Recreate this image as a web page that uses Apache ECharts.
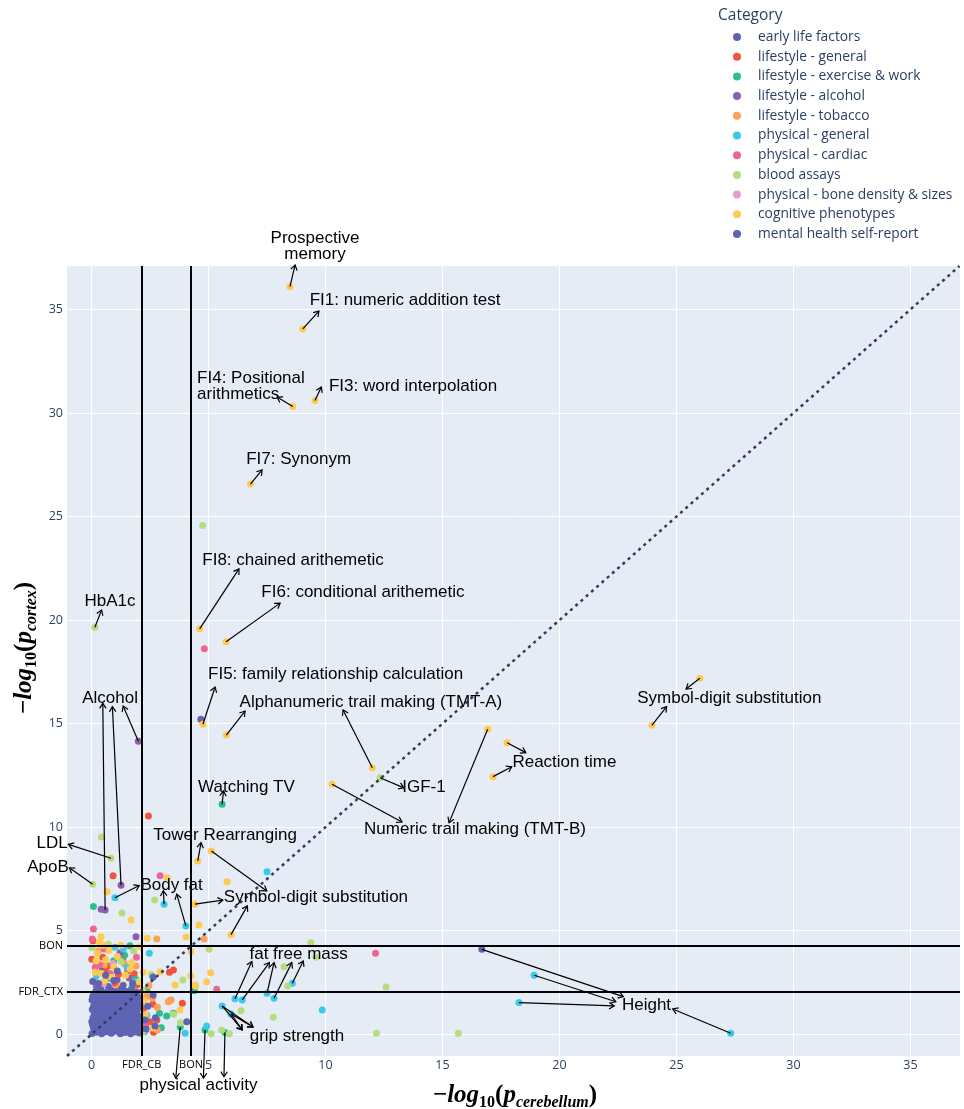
<!DOCTYPE html>
<html>
<head>
<meta charset="utf-8">
<script src="https://cdn.jsdelivr.net/npm/echarts@6/dist/echarts.min.js"></script>
<style>
  html, body { margin: 0; padding: 0; background: #fff; }
  #chart { width: 964px; height: 1109px; }
</style>
</head>
<body>
<div id="chart"></div>
<script>
// ---- categories and colours ----
const categories = [
  'early life factors',
  'lifestyle - general',
  'lifestyle - exercise & work',
  'lifestyle - alcohol',
  'lifestyle - tobacco',
  'physical - general',
  'physical - cardiac',
  'blood assays',
  'physical - bone density & sizes',
  'cognitive phenotypes',
  'mental health self-report'
];
const colors = ['#5f63b4', '#ef553b', '#2bbf8e', '#8d5eae', '#fca15a', '#3ac9ec',
                '#ef6591', '#b4dd7e', '#dea0cf', '#fdcb52', '#5f63b4'];

// ---- [-log10 p cerebellum, -log10 p cortex] per category ----
const earlyLife = [[0.12,0.22],[0.37,0.93],[0.64,1.38],[0.91,0.41],[1.18,1.12],[1.52,0.27],[0.26,1.71],
  [1.76,1.63],[0.72,2.31],[1.09,2.62],[0.46,3.12],[1.96,0.81],[0.16,2.52],[1.41,2.04],[0.82,0.08],[4.67,15.21]];
const lifestyleGeneral = [[2.43,10.54],[0.92,7.66],[0.01,3.62],[0.22,3.46],[0.06,4.52],[3.33,2.99],[3.50,3.10],
  [3.88,1.50],[2.79,0.69],[2.50,0.61],[2.65,0.10],[0.62,3.02],[1.55,3.05],[1.01,2.45],[0.31,2.21],[1.82,2.92],
  [2.21,1.22],[2.62,1.45],[0.09,1.31],[1.33,3.62],[2.06,0.35],[0.48,3.72],[1.94,2.38],[0.70,3.30],[1.15,2.90]];
const lifestyleExercise = [[5.58,11.11],[0.08,6.17],[3.21,0.88],[3.50,1.01],[3.79,0.35],[4.85,0.21],[5.70,0.08],
  [1.41,3.81],[0.75,2.71],[1.12,0.92],[2.15,0.85],[0.41,1.62],[1.71,2.22],[2.36,2.12],[4.39,2.10],[1.64,4.27],
  [2.98,0.32],[2.90,1.02],[0.95,3.55],[1.90,2.65]];
const lifestyleAlcohol = [[2.00,14.15],[1.26,7.20],[0.58,6.00],[0.41,6.04],[1.90,4.71],[1.22,3.94],[0.21,2.32],
  [1.61,2.72],[0.52,0.82]];
const lifestyleTobacco = [[4.81,4.60],[2.79,4.60],[3.40,1.66],[3.28,1.57],[3.34,1.62],[2.81,1.30],[2.36,1.82],
  [2.81,0.21],[2.61,1.74],[0.55,3.35],[1.90,3.30],[0.30,4.02],[1.15,2.22],[2.05,1.95],[0.85,1.02],[1.60,0.62],
  [2.45,2.35],[1.40,3.40],[0.10,2.60]];
const physicalGeneral = [[1.00,6.59],[3.10,6.28],[4.03,5.23],[7.50,7.85],[6.13,1.71],[6.44,1.66],[7.50,1.98],
  [7.80,1.74],[8.58,2.46],[5.58,1.37],[5.96,0.98],[18.92,2.85],[18.27,1.53],[27.32,0.05],[9.86,1.17],[4.92,0.40],
  [4.00,0.05],[2.47,3.91],[2.36,0.93],[1.36,4.12],[0.71,1.92],[1.52,3.22],[0.21,2.82],[1.95,2.55],[2.28,0.12],
  [1.00,4.20]];
const physicalCardiac = [[4.82,18.62],[2.93,7.66],[0.08,5.08],[0.03,4.60],[12.14,3.91],[5.35,2.17],[0.80,2.92],
  [1.31,1.72],[0.15,3.22],[2.31,0.42],[1.92,3.72],[0.55,4.12],[0.35,3.35]];
const bloodAssays = [[0.14,19.65],[4.75,24.57],[12.33,12.39],[0.42,9.53],[0.83,8.50],[0.05,7.24],[1.30,5.86],
  [2.70,6.48],[0.72,4.35],[0.02,4.18],[1.26,3.51],[9.37,4.42],[9.59,3.72],[8.23,3.26],[8.38,2.33],[12.59,2.28],
  [6.39,1.14],[7.77,0.82],[12.18,0.05],[15.68,0.05],[5.11,0.02],[5.89,0.02],[5.56,0.21],[5.02,4.10],[3.90,2.62],
  [3.50,0.97],[0.40,2.05],[1.80,4.02],[1.05,1.22],[3.80,0.55],[2.55,2.90]];
const physicalBone = [[0.50,2.42],[1.62,1.32],[0.92,3.42]];
const cognitive = [[8.48,36.10],[9.03,34.06],[8.60,30.32],[9.55,30.60],[6.79,26.57],[4.62,19.58],[5.75,18.96],
  [4.76,14.97],[5.76,14.45],[12.00,12.87],[10.28,12.07],[16.93,14.73],[17.76,14.08],[17.16,12.44],[26.00,17.19],
  [23.95,14.92],[4.54,8.37],[5.12,8.85],[4.42,6.28],[5.96,4.81],[0.66,6.88],[1.69,5.52],[3.23,7.56],[5.79,7.36],
  [4.59,5.28],[4.04,4.70],[0.41,4.71],[0.33,4.47],[2.38,4.64],[1.72,3.46],[2.93,3.02],[5.09,2.97],[4.92,2.54],
  [4.25,3.99],[4.42,2.38],[3.78,1.17],[4.24,2.82],[4.45,2.33],[3.57,2.38],[0.25,3.90],[0.60,3.60],[0.95,3.25],
  [1.45,2.85],[0.40,2.95],[1.10,3.75],[0.15,3.00],[2.20,3.00],[2.25,1.60],[2.30,0.95],[2.20,0.15],[0.75,4.05],
  [2.07,4.22],[1.35,2.40],[2.05,2.55],[0.55,2.60],[2.62,0.30],[2.18,2.10],[0.85,2.75],[1.65,3.15],[0.20,3.55],
  [1.25,4.30],[0.50,4.30]];
const mentalHealth = [
  [0.02,0.04],[0.21,0.10],[0.43,0.02],[0.61,0.12],[0.84,0.05],[1.02,0.14],[1.23,0.03],[1.44,0.09],[1.67,0.02],[1.86,0.11],[2.05,0.06],
  [0.08,0.33],[0.30,0.38],[0.52,0.29],[0.73,0.41],[0.95,0.32],[1.14,0.36],[1.35,0.30],[1.58,0.42],[1.77,0.34],[1.97,0.39],
  [0.01,0.60],[0.19,0.66],[0.41,0.57],[0.63,0.70],[0.86,0.62],[1.07,0.55],[1.26,0.68],[1.49,0.60],[1.70,0.71],[1.90,0.58],[2.10,0.66],
  [0.11,0.92],[0.33,0.86],[0.55,0.98],[0.77,0.89],[0.98,0.95],[1.18,0.87],[1.41,0.99],[1.61,0.90],[1.83,0.96],[2.02,0.88],
  [0.03,1.20],[0.24,1.27],[0.46,1.16],[0.68,1.30],[0.90,1.21],[1.10,1.15],[1.32,1.28],[1.53,1.19],[1.74,1.25],[1.95,1.17],
  [0.14,1.50],[0.36,1.58],[0.58,1.45],[0.80,1.55],[1.01,1.48],[1.22,1.60],[1.45,1.47],[1.66,1.56],[1.88,1.50],[2.07,1.43],
  [0.05,1.82],[0.27,1.76],[0.49,1.88],[0.71,1.79],[0.93,1.85],[1.16,1.77],[1.37,1.90],[1.57,1.80],[1.80,1.86],[2.00,1.78],
  [0.18,2.08],[0.40,2.15],[0.62,2.02],[0.85,2.12],[1.06,2.05],[1.28,2.18],[1.50,2.06],[1.72,2.14],[1.93,2.03],
  [0.12,0.19],[0.34,0.16],[0.55,0.21],[0.76,0.17],[0.97,0.23],[1.17,0.18],[1.39,0.22],[1.62,0.16],[1.82,0.24],[2.00,0.21],
  [0.04,0.47],[0.25,0.51],[0.47,0.44],[0.69,0.52],[0.90,0.47],[1.11,0.45],[1.31,0.50],[1.53,0.46],[1.74,0.53],[1.94,0.49],
  [0.06,0.78],[0.28,0.74],[0.50,0.80],[0.72,0.76],[0.93,0.79],[1.13,0.73],[1.35,0.81],[1.56,0.75],[1.78,0.79],[2.06,0.77],
  [0.17,1.06],[0.39,1.09],[0.61,1.04],[0.83,1.08],[1.04,1.03],[1.25,1.10],[1.47,1.05],[1.68,1.09],[1.89,1.04],
  [0.09,1.36],[0.30,1.40],[0.52,1.34],[0.74,1.41],[0.96,1.36],[1.16,1.38],[1.38,1.35],[1.60,1.41],[1.81,1.37],[2.03,1.30],
  [0.02,1.65],[0.22,1.63],[0.43,1.70],[0.65,1.66],[0.87,1.69],[1.08,1.64],[1.30,1.71],[1.51,1.65],[1.73,1.70],[1.95,1.64],
  [0.10,1.95],[0.33,1.98],[0.55,1.93],[0.78,1.97],[0.99,1.94],[1.22,1.99],[1.44,1.95],[1.65,1.97],[1.87,1.92],
  [0.30,2.45],[0.95,2.60],[1.35,2.35],[0.60,2.85],[1.75,2.45],[1.10,3.05],[0.05,2.55],
  [16.68,4.10],[4.07,0.61],[2.63,2.77],[2.29,0.69],[2.73,0.80],[2.71,0.40],[2.63,1.90],[2.40,1.35],[2.33,0.25]
];
const seriesValues = [earlyLife, lifestyleGeneral, lifestyleExercise, lifestyleAlcohol, lifestyleTobacco,
  physicalGeneral, physicalCardiac, bloodAssays, physicalBone, cognitive, mentalHealth];

// ---- axes and significance thresholds ----
const xTicks = [0, 5, 10, 15, 20, 25, 30, 35];
const yTicks = [0, 5, 10, 15, 20, 25, 30, 35];
const xRange = [-1.05, 37.12];
const yRange = [-1.05, 37.1];
const FDR_CB = 2.14;
const BON = 4.25;
const FDR_CTX = 2.06;

// ---- annotations: text anchor and arrows [from point, to tip] in data units ----
const annotations = [
  { text: 'Prospective\nmemory', at: [9.55, 38.05], arrows: [[[8.48, 36.10], [8.70, 37.15]]] },
  { text: 'FI1: numeric addition test', at: [13.40, 35.46], arrows: [[[9.03, 34.06], [9.72, 34.92]]] },
  { text: 'FI4: Positional\narithmetics', at: [4.51, 31.30], align: 'left', arrows: [[[8.60, 30.32], [7.93, 30.77]]] },
  { text: 'FI3: word interpolation', at: [13.74, 31.30], arrows: [[[9.55, 30.60], [9.82, 31.26]]] },
  { text: 'FI7: Synonym', at: [8.85, 27.78], arrows: [[[6.79, 26.57], [7.29, 27.25]]] },
  { text: 'FI8: chained arithemetic', at: [8.61, 22.90], arrows: [[[4.62, 19.58], [6.30, 22.47]]] },
  { text: 'FI6: conditional arithemetic', at: [11.60, 21.36], arrows: [[[5.75, 18.96], [8.06, 20.82]]] },
  { text: 'HbA1c', at: [0.79, 20.92], arrows: [[[0.14, 19.65], [0.43, 20.49]]] },
  { text: 'FI5: family relationship calculation', at: [10.43, 17.40], arrows: [[[4.76, 14.97], [5.28, 16.77]]] },
  { text: 'Alphanumeric trail making (TMT-A)', at: [11.94, 16.05], arrows: [
      [[5.76, 14.45], [6.56, 15.61]], [[12.00, 12.87], [10.75, 15.66]]] },
  { text: 'Alcohol', at: [0.79, 16.24], arrows: [
      [[2.00, 14.15], [1.35, 15.85]], [[0.58, 6.00], [0.48, 15.98]], [[1.26, 7.20], [0.89, 15.82]]] },
  { text: 'Watching TV', at: [6.62, 11.94], arrows: [[[5.58, 11.11], [5.64, 11.75]]] },
  { text: 'IGF-1', at: [14.21, 11.94], arrows: [[[12.33, 12.39], [13.35, 11.90]]] },
  { text: 'Numeric trail making (TMT-B)', at: [16.39, 9.92], arrows: [
      [[10.28, 12.07], [13.27, 10.25]], [[16.93, 14.73], [15.28, 10.22]]] },
  { text: 'Reaction time', at: [20.21, 13.15], arrows: [
      [[17.76, 14.08], [18.56, 13.60]], [[17.16, 12.44], [17.96, 12.92]]] },
  { text: 'Symbol-digit substitution', at: [27.26, 16.24], arrows: [
      [[26.00, 17.19], [25.41, 16.67]], [[23.95, 14.92], [24.58, 15.82]]] },
  { text: 'Tower Rearranging', at: [5.71, 9.63], arrows: [[[4.54, 8.37], [4.68, 9.25]]] },
  { text: 'LDL', at: [-1.69, 9.24], arrows: [[[0.83, 8.50], [-0.99, 9.17]]] },
  { text: 'ApoB', at: [-1.86, 8.08], arrows: [[[0.05, 7.24], [-0.95, 8.04]]] },
  { text: 'Body fat', at: [3.42, 7.21], arrows: [
      [[1.00, 6.59], [2.04, 7.18]], [[3.10, 6.28], [3.07, 6.93]], [[4.03, 5.23], [3.64, 6.77]]] },
  { text: 'Symbol-digit substitution', at: [9.59, 6.63], arrows: [
      [[5.12, 8.85], [7.49, 6.92]], [[4.42, 6.28], [5.61, 6.48]], [[5.96, 4.81], [6.66, 6.20]]] },
  { text: 'fat free mass', at: [8.85, 3.88], arrows: [
      [[6.13, 1.71], [6.85, 3.51]], [[6.44, 1.66], [7.60, 3.46]], [[7.50, 1.98], [7.80, 3.46]],
      [[7.80, 1.74], [8.56, 3.46]], [[8.58, 2.46], [9.05, 3.54]]] },
  { text: 'grip strength', at: [8.78, -0.08], arrows: [
      [[5.58, 1.37], [6.44, 0.21]], [[5.58, 1.37], [6.90, 0.35]],
      [[5.96, 0.98], [6.44, 0.21]], [[5.96, 0.98], [6.90, 0.35]]] },
  { text: 'physical activity', at: [4.57, -2.45], arrows: [
      [[3.79, 0.35], [3.60, -2.12]], [[4.85, 0.21], [4.78, -2.12]], [[5.70, 0.08], [5.66, -2.05]]] },
  { text: 'Height', at: [23.72, 1.41], arrows: [
      [[16.68, 4.10], [22.73, 1.82]], [[18.92, 2.85], [22.41, 1.57]],
      [[18.27, 1.53], [22.34, 1.37]], [[27.32, 0.05], [24.84, 1.22]]] }
];

const AXIS_COLOR = '#2a3f5f';
const chart = echarts.init(document.getElementById('chart'), null, { renderer: 'canvas' });

function thresholdLabel(map) {
  return function (v) {
    for (const k in map) { if (Math.abs(v - map[k]) < 1e-6) return '{th|' + k + '}'; }
    return String(v);
  };
}

const scatterSeries = categories.map((name, i) => ({
  type: 'scatter',
  name: name,
  data: seriesValues[i],
  symbol: 'circle',
  symbolSize: 7,
  itemStyle: { color: colors[i], opacity: 1 },
  emphasis: { disabled: true },
  silent: true,
  z: 2
}));

scatterSeries.push({
  type: 'line',
  name: 'reference lines',
  data: [],
  silent: true,
  markLine: {
    silent: true,
    symbol: 'none',
    animation: false,
    label: { show: false },
    emphasis: { disabled: true },
    data: [
      { xAxis: FDR_CB, lineStyle: { color: '#000', width: 2, type: 'solid' } },
      { xAxis: BON, lineStyle: { color: '#000', width: 2, type: 'solid' } },
      { yAxis: BON, lineStyle: { color: '#000', width: 2, type: 'solid' } },
      { yAxis: FDR_CTX, lineStyle: { color: '#000', width: 2, type: 'solid' } },
      [
        { coord: [xRange[0], yRange[0]], lineStyle: { color: AXIS_COLOR, width: 2.5, type: [3, 4] } },
        { coord: [yRange[1], yRange[1]] }
      ]
    ]
  }
});

const labelRich = { th: { color: '#000', fontSize: 11, fontFamily: '"Open Sans", sans-serif' } };

chart.setOption({
  animation: false,
  backgroundColor: '#fff',
  grid: {
    left: 67, right: 4, top: 266, bottom: 53,
    show: true, backgroundColor: '#E5ECF6', borderWidth: 0,
    containLabel: false, outerBoundsMode: 'none'
  },
  legend: {
    data: categories,
    orient: 'vertical',
    left: 733, top: 30,
    icon: 'circle',
    itemWidth: 32, itemHeight: 8,
    itemGap: 5.7,
    padding: 0,
    selectedMode: false,
    textStyle: { fontFamily: '"Open Sans", sans-serif', fontSize: 13.8, color: AXIS_COLOR, lineHeight: 14 }
  },
  xAxis: {
    type: 'value', min: xRange[0], max: xRange[1],
    axisLine: { show: false }, axisTick: { show: false, customValues: xTicks },
    splitLine: { show: true, lineStyle: { color: '#fff', width: 1 } },
    axisLabel: {
      customValues: xTicks.concat([FDR_CB, BON]),
      formatter: thresholdLabel({ FDR_CB: FDR_CB, BON: BON }),
      color: AXIS_COLOR, fontSize: 12.5, fontFamily: '"Open Sans", sans-serif', margin: 3,
      rich: labelRich
    }
  },
  yAxis: {
    type: 'value', min: yRange[0], max: yRange[1],
    axisLine: { show: false }, axisTick: { show: false, customValues: yTicks },
    splitLine: { show: true, lineStyle: { color: '#fff', width: 1 } },
    axisLabel: {
      customValues: yTicks.concat([FDR_CTX, BON]),
      formatter: thresholdLabel({ FDR_CTX: FDR_CTX, BON: BON }),
      color: AXIS_COLOR, fontSize: 12.5, fontFamily: '"Open Sans", sans-serif', margin: 4,
      rich: labelRich
    }
  },
  series: scatterSeries
});

// ---- annotation arrows and texts, plus titles ----
function toPx(p) { return chart.convertToPixel({ xAxisIndex: 0, yAxisIndex: 0 }, p); }
const graphics = [];
annotations.forEach(a => {
  a.arrows.forEach(([from, to]) => {
    const p0 = toPx(from), p1 = toPx(to);
    graphics.push({ type: 'line', silent: true, z: 100,
      shape: { x1: p0[0], y1: p0[1], x2: p1[0], y2: p1[1] },
      style: { stroke: '#000', lineWidth: 1.2 } });
    const ang = Math.atan2(p1[1] - p0[1], p1[0] - p0[0]);
    const L = 6, w = Math.PI / 5.5;
    graphics.push({ type: 'polyline', silent: true, z: 100,
      shape: { points: [
        [p1[0] - L * Math.cos(ang - w), p1[1] - L * Math.sin(ang - w)],
        [p1[0], p1[1]],
        [p1[0] - L * Math.cos(ang + w), p1[1] - L * Math.sin(ang + w)]
      ] },
      style: { stroke: '#000', lineWidth: 1.2, fill: null } });
  });
  const t = toPx(a.at);
  graphics.push({ type: 'text', silent: true, z: 101, x: t[0], y: t[1],
    style: { text: a.text, fill: '#000', font: '17px "Liberation Sans", Arial, sans-serif',
             align: a.align || 'center', verticalAlign: 'middle', lineHeight: 16 } });
});

const mathRich = {
  m: { fontFamily: '"Liberation Serif", serif', fontWeight: 'bold', fontStyle: 'italic', fontSize: 25, color: AXIS_COLOR, lineHeight: 30 },
  r: { fontFamily: '"Liberation Serif", serif', fontWeight: 'bold', fontSize: 25, color: AXIS_COLOR, lineHeight: 30 },
  n: { fontFamily: '"Liberation Serif", serif', fontWeight: 'bold', fontSize: 16, color: AXIS_COLOR, lineHeight: 16, verticalAlign: 'bottom' },
  s: { fontFamily: '"Liberation Serif", serif', fontWeight: 'bold', fontStyle: 'italic', fontSize: 16, color: AXIS_COLOR, lineHeight: 16, verticalAlign: 'bottom' }
};
graphics.push({ type: 'text', silent: true, x: 515, y: 1096,
  style: { text: '{r|\u2212}{m|log}{n|10}{r|(}{m|p}{s|cerebellum}{r|)}', rich: mathRich,
           align: 'center', verticalAlign: 'middle' } });
graphics.push({ type: 'text', silent: true, x: 25, y: 648, rotation: Math.PI / 2,
  style: { text: '{r|\u2212}{m|log}{n|10}{r|(}{m|p}{s|cortex}{r|)}', rich: mathRich,
           align: 'center', verticalAlign: 'middle' } });
graphics.push({ type: 'text', silent: true, x: 718, y: 16,
  style: { text: 'Category', fill: AXIS_COLOR, font: '15.5px "Open Sans", sans-serif',
           align: 'left', verticalAlign: 'middle' } });

chart.setOption({ graphic: { elements: graphics } });
</script>
</body>
</html>
